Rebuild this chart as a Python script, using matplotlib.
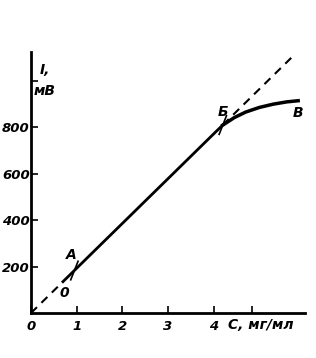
import matplotlib
matplotlib.use("Agg")
import matplotlib.pyplot as plt
import numpy as np

plt.rcParams['font.family'] = ['DejaVu Sans']

# data
x_ticks = [0, 1, 2, 3, 4]
y_ticks = [200, 400, 600, 800]
slope = 193.0  # мВ per мг/мл
dash_start = [0.0, 0.7]
solid_line = [0.7, 4.2]
dash_end = [4.2, 5.7]
curve_x = [4.2, 4.45, 4.7, 5.0, 5.3, 5.6, 5.85]
curve_y = [810, 842, 866, 886, 900, 910, 915]
point_a = (0.95, 183)
point_b = (4.2, 810)

fig = plt.figure(figsize=(3.16, 3.58), dpi=100)
ax = fig.add_axes([31/316, 45/358, 274/316, 261/358])

ax.plot(dash_start, [slope*v for v in dash_start], 'k--', lw=1.5, dashes=(4, 3))
ax.plot(solid_line, [slope*v for v in solid_line], 'k-', lw=2)
ax.plot(dash_end, [slope*v for v in dash_end], 'k--', lw=1.5, dashes=(4, 3))
ax.plot(curve_x, curve_y, 'k-', lw=2.5)

# small cross marks at A and Б
for px, py in [point_a, point_b]:
    ax.plot([px + 0.08, px - 0.08], [py + 40, py - 40], 'k-', lw=1.2)

ax.set_xlim(0, 6.0)
ax.set_ylim(0, 1125)
ax.set_xticks(x_ticks + [4.85])
ax.set_xticklabels([str(v) for v in x_ticks] + [''])
ax.set_yticks(y_ticks + [1000])
ax.set_yticklabels([str(v) for v in y_ticks] + [''])

for s in ['top', 'right']:
    ax.spines[s].set_visible(False)
for s in ['left', 'bottom']:
    ax.spines[s].set_linewidth(2)
ax.tick_params(direction='in', length=5, width=1.2, pad=1)
ax.tick_params(axis='x', pad=5)
for lbl in ax.get_xticklabels() + ax.get_yticklabels():
    lbl.set_fontsize(9.5)
    lbl.set_fontstyle('italic')
    lbl.set_fontweight('bold')

fkw = dict(fontsize=10, fontstyle='italic', fontweight='bold')
ax.text(0.88, 250, 'А', ha='center', va='center', **fkw)
ax.text(0.72, 85, '0', ha='center', va='center', **fkw)
ax.text(4.2, 868, 'Б', ha='center', va='center', **fkw)
ax.text(5.85, 862, 'В', ha='center', va='center', **fkw)
fig.text(45/316, 1 - 70/358, 'I,', ha='center', va='center', **fkw)
fig.text(45/316, 1 - 91/358, 'мВ', ha='center', va='center', **fkw)
fig.text(228/316, 1 - 325/358, 'С, мг/мл', ha='left', va='center', **fkw)

fig.savefig('out.png', dpi=100)
